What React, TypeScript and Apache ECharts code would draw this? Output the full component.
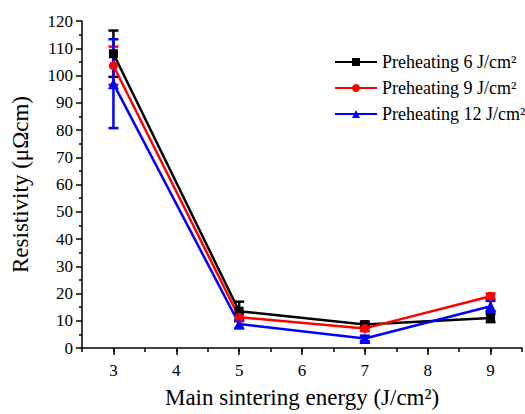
import React, { useEffect, useRef } from "react";
import * as echarts from "echarts";

const energies = [3, 5, 7, 9];
const seriesNames = ["Preheating 6 J/cm²", "Preheating 9 J/cm²", "Preheating 12 J/cm²"];
const pre6 = [108, 13.5, 8.6, 11];
const pre9 = [103.6, 11.3, 7.2, 19];
const pre12 = [97, 8.8, 3.5, 15.3];
const err6 = [8.5, 3.5, 1, 1.5];
const err9 = [7, 1.5, 1, 1];
const err12 = [16.3, 1.5, 1, 2];
const colors = ["#000000", "#ff0000", "#0000ff"];
const symbols = ["rect", "circle", "triangle"];
const xTicks = [3, 4, 5, 6, 7, 8, 9];

const FONT = "'Liberation Serif', 'Times New Roman', serif";

export default function App() {
  const ref = useRef<HTMLDivElement>(null);
  useEffect(() => {
    if (!ref.current) return;
    const chart = echarts.init(ref.current, null, { renderer: "svg" });
    const values = [pre6, pre9, pre12];
    const errs = [err6, err9, err12];
    const lineSeries: any[] = values.map((vals, i) => ({
      name: seriesNames[i],
      type: "line",
      data: energies.map((x, j) => [x, vals[j]]),
      symbol: symbols[i],
      symbolSize: i === 2 ? 11 : 9,
      lineStyle: { color: colors[i], width: 2.5 },
      itemStyle: { color: colors[i] },
      z: 3,
    }));
    const errSeries: any[] = values.map((vals, i) => ({
      name: "err" + i,
      type: "custom",
      data: energies.map((x, j) => [x, vals[j] - errs[i][j], vals[j] + errs[i][j]]),
      renderItem: (params: any, api: any) => {
        const x = api.value(0);
        const lo = api.coord([x, api.value(1)]);
        const hi = api.coord([x, api.value(2)]);
        const w = 5;
        const style = { stroke: colors[i], lineWidth: 2.5, fill: "none" };
        return {
          type: "group",
          children: [
            { type: "line", shape: { x1: hi[0], y1: hi[1], x2: lo[0], y2: lo[1] }, style },
            { type: "line", shape: { x1: hi[0] - w, y1: hi[1], x2: hi[0] + w, y2: hi[1] }, style },
            { type: "line", shape: { x1: lo[0] - w, y1: lo[1], x2: lo[0] + w, y2: lo[1] }, style },
          ],
        };
      },
      z: 2,
      silent: true,
    }));
    chart.setOption({
      animation: false,
      backgroundColor: "#ffffff",
      grid: { left: 82, top: 21, bottom: 62, right: -7, containLabel: false },
      legend: {
        data: seriesNames,
        orient: "vertical",
        left: 329,
        top: 48,
        itemWidth: 42,
        itemHeight: 10,
        itemGap: 8,
        textStyle: { fontFamily: FONT, fontSize: 18, color: "#000", padding: [0, 0, 0, 0] },
      },
      xAxis: [
        {
          type: "value",
          min: 2.5,
          max: 9.5,
          interval: 0.5,
          position: "bottom",
          name: "Main sintering energy (J/cm²)",
          nameLocation: "middle",
          nameGap: 38,
          nameTextStyle: { fontFamily: FONT, fontSize: 23, color: "#000" },
          axisLine: { lineStyle: { color: "#000", width: 1.5 } },
          axisTick: { length: 4, lineStyle: { color: "#000", width: 1.5 } },
          axisLabel: {
            fontFamily: FONT,
            fontSize: 17,
            color: "#000",
            margin: 14,
            formatter: (v: number) => (Number.isInteger(v) && xTicks.includes(v) ? String(v) : ""),
          },
          splitLine: { show: false },
        },
        {
          type: "value",
          min: 2.5,
          max: 9.5,
          position: "bottom",
          axisLine: { show: false },
          axisTick: { show: true, customValues: xTicks, length: 7, lineStyle: { color: "#000", width: 1.5 } },
          axisLabel: { show: false },
          splitLine: { show: false },
        },
      ],
      yAxis: {
        type: "value",
        min: 0,
        max: 120,
        interval: 10,
        name: "Resistivity (μΩcm)",
        nameLocation: "middle",
        nameGap: 50,
        nameTextStyle: { fontFamily: FONT, fontSize: 23, color: "#000" },
        axisLine: { show: true, lineStyle: { color: "#000", width: 1.5 } },
        axisTick: { show: true, length: 6, lineStyle: { color: "#000", width: 1.5 } },
        minorTick: { show: true, splitNumber: 2, length: 3, lineStyle: { color: "#000", width: 1.5 } },
        axisLabel: { fontFamily: FONT, fontSize: 17, color: "#000", margin: 9 },
        splitLine: { show: false },
      },
      series: [...lineSeries, ...errSeries],
    });
    return () => chart.dispose();
  }, []);
  return <div ref={ref} style={{ width: 525, height: 414, position: "absolute", left: 0, top: 0 }} />;
}
